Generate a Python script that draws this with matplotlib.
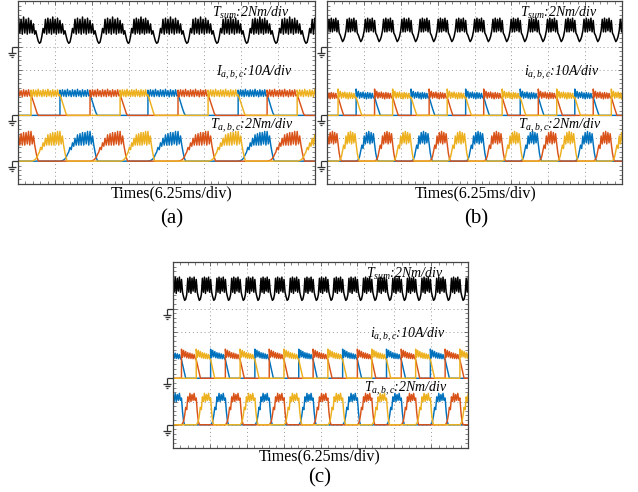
import numpy as np
import matplotlib
matplotlib.use("Agg")
import matplotlib.pyplot as plt
from matplotlib.ticker import MultipleLocator

plt.rcParams["font.family"] = "Liberation Serif"
plt.rcParams["mathtext.fontset"] = "custom"
plt.rcParams["mathtext.it"] = "Liberation Serif:italic"
plt.rcParams["mathtext.rm"] = "Liberation Serif:italic"

RED = "#D95319"
YEL = "#EDB120"
BLU = "#0072BD"
PHASE_COLORS = {"b": BLU, "r": RED, "y": YEL}

# ---- panel (a): commutation instants (div) and phase that turns on ----
rise_a = [-0.45, 0.35, 1.13, 1.94, 2.75, 3.50, 4.31, 5.12, 5.93, 6.71, 7.52]
phase_a = "ryb" "ryb" "ryb" "ry"
# one stroke of summed torque (Nm), 24 samples per stroke
tsum_a = [2.3, 1.2, 2.0, 1.1, 1.4, 0.9, 0.5, 0.3, 0.4, 0.9, 1.6, 1.2,
          2.4, 1.1, 2.5, 1.2, 2.4, 1.1, 2.6, 1.2, 2.4, 1.1, 2.5, 1.2]
# one phase current pulse (A), from turn-on to end of the fall
cur_a = [11.0, 8.2, 11.2, 8.4, 11.0, 8.2, 11.4, 8.5, 10.8, 8.2, 11.2, 8.4,
         11.0, 8.2, 11.4, 8.5, 10.8, 8.1, 11.2, 8.4, 10.9, 8.3, 11.2, 8.5,
         9.0, 7.5, 5.8, 4.0, 2.3, 0.8, 0.0]
# one phase torque pulse (Nm)
trq_a = [0.0, 0.02, 0.05, 0.1, 0.2, 0.35, 0.6, 0.8, 1.2, 1.0, 1.6, 1.3,
         2.0, 1.4, 2.3, 1.4, 2.4, 1.4, 2.5, 1.4, 2.5, 1.5, 2.6, 1.4,
         2.6, 1.5, 2.2, 1.4, 0.8, 0.3, 0.0]
per_a = 24

# ---- panel (b) ----
rise_b = [-0.19, 0.30, 0.79, 1.29, 1.78, 2.28, 2.77, 3.26, 3.76, 4.25,
          4.75, 5.24, 5.73, 6.23, 6.72, 7.22, 7.71]
phase_b = "ryb" "ryb" "ryb" "ryb" "ryb" "ry"
tsum_b = [2.3, 1.2, 1.0, 0.7, 0.45, 0.6, 0.9, 1.4, 2.4, 1.3, 2.5, 1.3,
          2.4, 1.4, 2.5, 1.3]
cur_b = [11.5, 8.0, 10.5, 7.5, 10.0, 7.8, 10.2, 7.5, 9.8, 7.2, 10.0, 7.5,
         9.8, 7.4, 9.6, 7.6, 8.0, 6.3, 4.6, 3.0, 1.5, 0.0]
trq_b = [0.0, 0.05, 0.15, 0.4, 0.9, 1.4, 1.1, 2.2, 1.5, 2.5, 1.6, 2.6,
         1.5, 2.5, 1.6, 2.4, 1.5, 0.7, 0.2, 0.0]
per_b = 16

# ---- panel (c) ----
rise_c = [-0.17, 0.23, 0.63, 1.02, 1.42, 1.82, 2.22, 2.61, 3.01, 3.41,
          3.80, 4.20, 4.60, 5.00, 5.39, 5.79, 6.19, 6.58, 6.98, 7.38, 7.78]
phase_c = "bry" "bry" "bry" "bry" "bry" "bry" "bry"
tsum_c = [2.5, 1.4, 1.0, 0.7, 0.8, 1.2, 2.6, 1.4, 2.7, 1.3, 2.6, 1.5,
          2.7, 1.4]
cur_c = [12.5, 9.0, 12.0, 9.2, 11.5, 8.8, 11.0, 8.6, 10.8, 8.5, 10.5, 8.4,
         10.2, 8.5, 8.0, 6.0, 4.0, 2.0, 0.0]
trq_c = [0.0, 0.1, 0.3, 0.8, 1.5, 1.3, 2.4, 2.0, 2.7, 2.0, 2.6, 2.1,
         2.7, 2.1, 2.3, 1.1, 0.3, 0.0]
per_c = 14

# trace ground levels (div from bottom) and scales (units/div)
GND_TSUM, GND_CUR, GND_TRQ = 6.0, 3.0, 1.0
SCALE_T, SCALE_I = 2.0, 10.0


def stroke_len(rises, k):
    if k + 1 < len(rises):
        return rises[k + 1] - rises[k]
    return rises[k] - rises[k - 1]


def phase_trace(rises, phases, which, profile, per):
    xs, ys = [-1.0], [0.0]
    for k, (t0, ph) in enumerate(zip(rises, phases)):
        if ph != which:
            continue
        dt = stroke_len(rises, k)
        xs += [t0] + list(t0 + dt * np.arange(len(profile)) / per)
        ys += [0.0] + list(profile)
    xs.append(9.0)
    ys.append(0.0)
    return np.array(xs), np.array(ys)


def sum_trace(rises, profile):
    xs, ys = [], []
    n = len(profile)
    for k, t0 in enumerate(rises):
        dt = stroke_len(rises, k)
        xs += list(t0 + dt * np.arange(n) / n)
        ys += list(profile)
    return np.array(xs), np.array(ys)


def ground_mark(ax, g):
    # little scope ground symbol left of the frame, sizes in divisions
    dx = 1 / 37.0
    dy = 1 / 23.0
    kw = dict(color="#333333", lw=0.9, clip_on=False, solid_capstyle="butt")
    ax.plot([-6 * dx, 0], [g, g], **kw)
    ax.plot([-6 * dx, -6 * dx], [g, g - 6 * dy], **kw)
    ax.plot([-10 * dx, -2 * dx], [g - 6 * dy, g - 6 * dy], **kw)
    ax.plot([-8.5 * dx, -3.5 * dx], [g - 8 * dy, g - 8 * dy], **kw)
    ax.plot([-7 * dx, -5 * dx], [g - 10 * dy, g - 10 * dy], **kw)


def draw_panel(ax, rises, phases, tsum, cur, trq, per, cur_name):
    ax.set_xlim(0, 8)
    ax.set_ylim(0, 8)
    ax.xaxis.set_major_locator(MultipleLocator(1))
    ax.yaxis.set_major_locator(MultipleLocator(1))
    ax.xaxis.set_minor_locator(MultipleLocator(0.2))
    ax.yaxis.set_minor_locator(MultipleLocator(0.2))
    ax.tick_params(which="both", direction="in", top=True, right=True,
                   labelbottom=False, labelleft=False, color="#555555")
    ax.tick_params(which="major", length=3, width=0.6)
    ax.tick_params(which="minor", length=2, width=0.5)
    ax.grid(True, which="major", linestyle=(0, (1, 3)), color="#999999",
            linewidth=0.7)
    for sp in ax.spines.values():
        sp.set_color("#444444")
        sp.set_linewidth(0.9)

    # summed torque
    x, y = sum_trace(rises, tsum)
    ax.plot(x, GND_TSUM + np.array(y) / SCALE_T, color="black", lw=1.1)

    # phase currents and torques
    for ph in "bry":
        x, y = phase_trace(rises, phases, ph, cur, per)
        ax.plot(x, GND_CUR + y / SCALE_I, color=PHASE_COLORS[ph], lw=1.05)
        x, y = phase_trace(rises, phases, ph, trq, per)
        ax.plot(x, GND_TRQ + y / SCALE_T, color=PHASE_COLORS[ph], lw=1.05)

    for g in (GND_TSUM, GND_CUR, GND_TRQ):
        ground_mark(ax, g)

    lab = dict(fontsize=10, style="italic", ha="center", va="center")
    ax.text(6.28, 7.48, r"$T_{sum}$:2Nm/div", **lab)
    ax.text(6.36, 4.87, cur_name + ":10A/div", **lab)
    ax.text(6.3, 2.52, r"$T_{a,b,c}$:2Nm/div", **lab)


W, H = 638.0, 492.0
fig = plt.figure(figsize=(W / 100, H / 100), dpi=100)
ax_a = fig.add_axes([18 / W, 1 - 184 / H, 297 / W, 183 / H])
ax_b = fig.add_axes([327 / W, 1 - 184 / H, 295 / W, 183 / H])
ax_c = fig.add_axes([173 / W, 1 - 448 / H, 295 / W, 186 / H])

draw_panel(ax_a, rise_a, phase_a, tsum_a, cur_a, trq_a, per_a,
           r"$I_{a,b,c}$")
draw_panel(ax_b, rise_b, phase_b, tsum_b, cur_b, trq_b, per_b,
           r"$i_{a,b,c}$")
draw_panel(ax_c, rise_c, phase_c, tsum_c, cur_c, trq_c, per_c,
           r"$i_{a,b,c}$")

# captions, positions in picture pixels
for cx, ty, ly, letter in [(172, 193, 219, "(a)"), (476, 193, 219, "(b)"),
                           (320, 456, 478, "(c)")]:
    fig.text(cx / W, 1 - ty / H, "Times(6.25ms/div)", ha="center",
             va="center", fontsize=11.5)
    fig.text(cx / W, 1 - ly / H, letter, ha="center", va="center",
             fontsize=15)

fig.savefig("out.png", dpi=100)
